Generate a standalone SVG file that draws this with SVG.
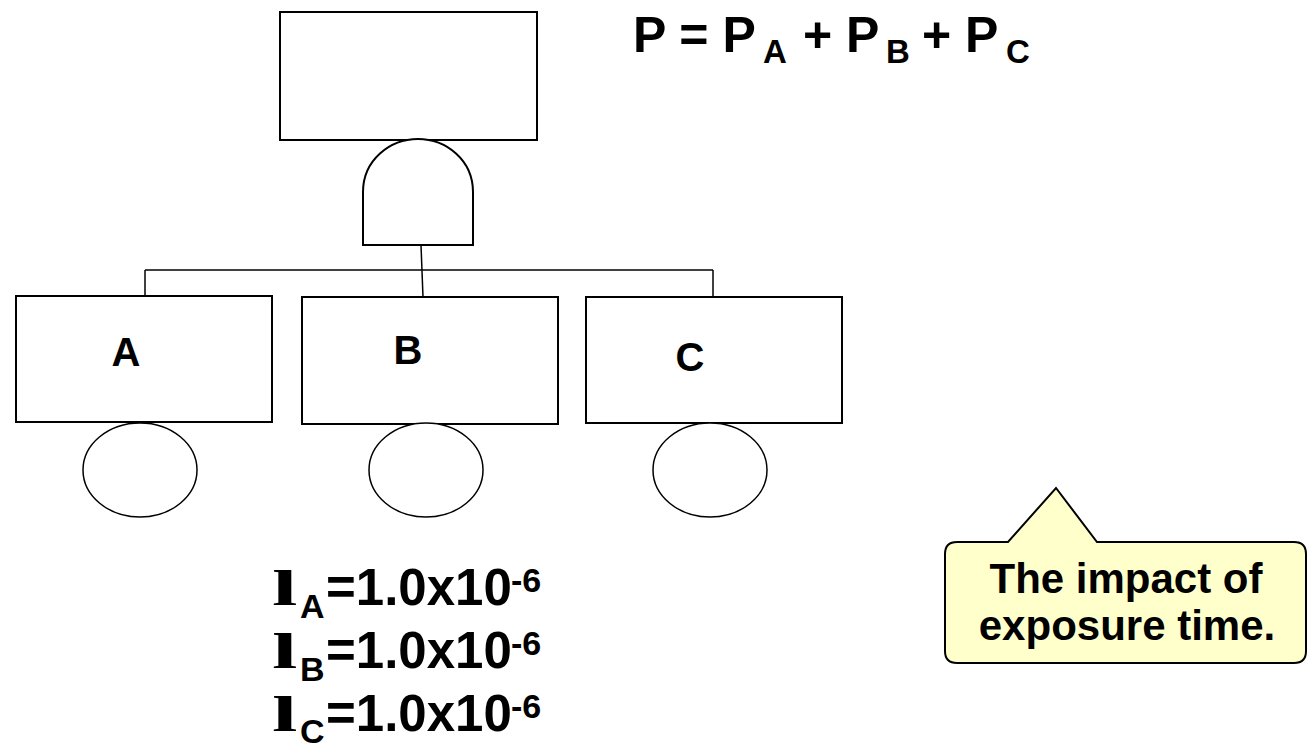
<svg xmlns="http://www.w3.org/2000/svg" width="1308" height="744" viewBox="0 0 1308 744">
<style>
.box{fill:#fff;stroke:#000;stroke-width:2}
.circ{fill:#fff;stroke:#000;stroke-width:1.5}
.ln{fill:none;stroke:#000;stroke-width:1.5}
.t{font-family:"Liberation Sans",Arial,sans-serif;font-weight:bold;fill:#000}
.lam{font-family:"Liberation Serif","Times New Roman",serif;font-weight:bold;fill:#000}
</style>
<rect width="1308" height="744" fill="#fff"/>
<g id="connectors">
<path class="ln" d="M421,245 L423,297"/>
<path class="ln" d="M145,270 L713,270"/>
<path class="ln" d="M145,270 L145,296"/>
<path class="ln" d="M713,270 L713,297"/>
</g>
<g id="top"><rect class="box" x="280" y="12" width="257" height="128"/></g>
<g id="gate"><path class="box" d="M363,245 L363,192 C363,160 390,139 418,139 C446,139 473,160 473,192 L473,245 Z"/></g>
<g id="nodeA"><rect class="box" x="16" y="296" width="256" height="126"/><text class="t" x="126" y="366" font-size="40" text-anchor="middle">A</text></g>
<g id="nodeB"><rect class="box" x="302" y="297" width="256" height="127"/><text class="t" x="408" y="364" font-size="40" text-anchor="middle">B</text></g>
<g id="nodeC"><rect class="box" x="586" y="297" width="256" height="126"/><text class="t" x="690" y="371" font-size="40" text-anchor="middle">C</text></g>
<g id="evA"><ellipse class="circ" cx="140" cy="470" rx="57" ry="47"/></g>
<g id="evB"><ellipse class="circ" cx="426" cy="470" rx="57" ry="47"/></g>
<g id="evC"><ellipse class="circ" cx="710" cy="470" rx="57" ry="47"/></g>
<g id="formula">
<text class="t" x="633" y="52" font-size="50">P = P</text>
<text class="t" x="763" y="63" font-size="33">A</text>
<text class="t" x="803" y="52" font-size="50">+ P</text>
<text class="t" x="886" y="63" font-size="33">B</text>
<text class="t" x="922" y="52" font-size="50">+ P</text>
<text class="t" x="1006" y="63" font-size="33">C</text>
</g>
<g id="rates">
<text class="lam" font-size="51" transform="translate(272,605) scale(1.8,1)">l</text>
<text class="t" x="300" y="618" font-size="34">A</text>
<text class="t" x="326" y="605" font-size="51">=1.0x10</text>
<text class="t" x="511" y="592" font-size="34">-6</text>
<text class="lam" font-size="51" transform="translate(272,668) scale(1.8,1)">l</text>
<text class="t" x="300" y="681" font-size="34">B</text>
<text class="t" x="326" y="668" font-size="51">=1.0x10</text>
<text class="t" x="511" y="655" font-size="34">-6</text>
<text class="lam" font-size="51" transform="translate(272,731) scale(1.8,1)">l</text>
<text class="t" x="300" y="743" font-size="34">C</text>
<text class="t" x="326" y="731" font-size="51">=1.0x10</text>
<text class="t" x="511" y="718" font-size="34">-6</text>
</g>
<g id="callout">
<path d="M957,542 L1008,542 L1056,488 L1097,542 L1294,542 Q1306,542 1306,554 L1306,651 Q1306,663 1294,663 L957,663 Q945,663 945,651 L945,554 Q945,542 957,542 Z" fill="#ffffcc" stroke="#000" stroke-width="2"/>
<text class="t" x="1126" y="593" font-size="42" text-anchor="middle">The impact of</text>
<text class="t" x="1127" y="640" font-size="42" text-anchor="middle">exposure time.</text>
</g>
</svg>
